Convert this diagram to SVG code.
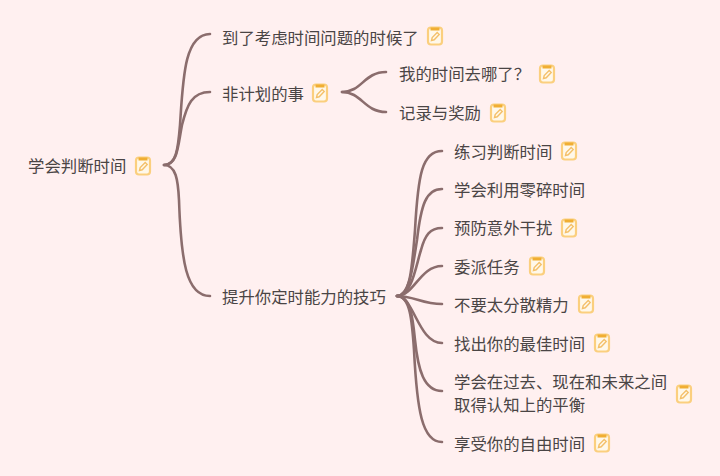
<svg xmlns="http://www.w3.org/2000/svg" xmlns:xlink="http://www.w3.org/1999/xlink" width="720" height="476" viewBox="0 0 720 476">
<style>
text{font-family:"Noto Sans CJK SC","Noto Sans",sans-serif;font-size:16.4px;fill:#4a4545}
.c path{fill:none;stroke:#8b6d6d;stroke-width:2.6;stroke-linecap:round}
.b{fill:#fff8ea;stroke:#fbcf7e;stroke-width:2.2}
.t{fill:#f0ae33}
.p{fill:none;stroke:#f4c06a;stroke-width:1.4}
</style>
<defs>
<g id="icon">
<rect class="b" x="-7" y="-8.5" width="14" height="17" rx="3"/>
<rect class="t" x="-4.5" y="-8.5" width="9" height="3"/>
<path class="p" d="M-3.5 4.5L-2.8 1.5L2.2 -3.5L4.2 -1.5L-0.8 3.8Z"/>
</g>
</defs>
<rect width="720" height="476" fill="#fff0f0"/>
<g class="c" id="connectors">
<path d="M164 165C176 165 178 150 180 125C183 80 184 34 210 34"/>
<path d="M164 165C178 165 178 145 182 125C187 105 192 92 210 92"/>
<path d="M164 165C176 165 178 180 179 200C181 260 186 296 210 296"/>
<path d="M342 92C362 92 364 72 386 72"/>
<path d="M342 92C362 92 364 112 386 112"/>
<path d="M397 296C410 296 412 270 415 230C418 175 422 151 442 151"/>
<path d="M397 296C410 296 413 265 417 240C421 205 426 189 442 189"/>
<path d="M397 296C412 296 416 265 421 250C425 235 430 228 442 228"/>
<path d="M397 296C414 296 420 266 442 266"/>
<path d="M397 296C414 296 422 304 442 304"/>
<path d="M397 296C414 296 418 343 442 343"/>
<path d="M397 296C411 296 413 320 415 340C418 370 424 391 442 391"/>
<path d="M397 296C410 296 412 320 414 350C417 410 422 442 442 442"/>
</g>
<g id="root"><text x="28" y="172">学会判断时间</text><use href="#icon" x="143" y="166"/></g>
<g id="n1"><text x="222" y="43.5">到了考虑时间问题的时候了</text><use href="#icon" x="435" y="36"/></g>
<g id="n2"><text x="222" y="99.5">非计划的事</text><use href="#icon" x="320" y="93"/></g>
<g id="n2a"><text x="399" y="80">我的时间去哪了？</text><use href="#icon" x="547" y="74"/></g>
<g id="n2b"><text x="399" y="119">记录与奖励</text><use href="#icon" x="498" y="113"/></g>
<g id="n3"><text x="222" y="302.5">提升你定时能力的技巧</text></g>
<g id="n3a"><text x="454" y="157.5">练习判断时间</text><use href="#icon" x="569" y="151"/></g>
<g id="n3b"><text x="454" y="196">学会利用零碎时间</text></g>
<g id="n3c"><text x="454" y="234">预防意外干扰</text><use href="#icon" x="569" y="228"/></g>
<g id="n3d"><text x="454" y="272.5">委派任务</text><use href="#icon" x="537" y="266"/></g>
<g id="n3e"><text x="454" y="311">不要太分散精力</text><use href="#icon" x="586" y="304"/></g>
<g id="n3f"><text x="454" y="349.5">找出你的最佳时间</text><use href="#icon" x="602" y="343"/></g>
<g id="n3g"><text x="454" y="387.5">学会在过去、现在和未来之间</text><text x="454" y="411">取得认知上的平衡</text><use href="#icon" x="684" y="394"/></g>
<g id="n3h"><text x="454" y="449.5">享受你的自由时间</text><use href="#icon" x="602" y="443"/></g>
</svg>
